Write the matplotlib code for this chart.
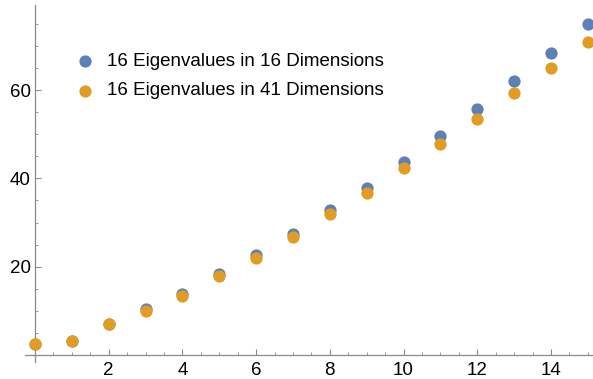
import matplotlib.pyplot as plt
from matplotlib.ticker import MultipleLocator, FixedLocator

plt.rcParams['font.family'] = ['Liberation Sans', 'DejaVu Sans']

# Datos
indices = list(range(16))
eig_16d = [2.4, 3.1, 7.0, 10.3, 13.7, 18.3, 22.6, 27.5, 32.8, 37.8,
           43.7, 49.6, 55.7, 62.1, 68.5, 75.1]
eig_41d = [2.4, 3.1, 7.0, 10.0, 13.4, 18.0, 21.9, 26.7, 31.9, 36.8,
           42.4, 47.8, 53.5, 59.3, 65.1, 71.0]
labels = ["16 Eigenvalues in 16 Dimensions", "16 Eigenvalues in 41 Dimensions"]
colores = ["#5E81B5", "#E19C24"]

fig = plt.figure(figsize=(5.93, 3.79), dpi=100)
ax = fig.add_axes([25 / 593, 17 / 379, 568 / 593, 357 / 379])

ax.scatter(indices, eig_16d, s=78, color=colores[0], label=labels[0], zorder=3, linewidths=0)
ax.scatter(indices, eig_41d, s=78, color=colores[1], label=labels[1], zorder=4, linewidths=0)

ax.set_xlim(-0.27, 15.14)
ax.set_ylim(-1.6, 79.3)

# Ejes estilo Mathematica
for lado in ['top', 'right']:
    ax.spines[lado].set_visible(False)
ax.spines['left'].set_position(('data', 0))
ax.spines['bottom'].set_position(('data', 0))
for lado in ['left', 'bottom']:
    ax.spines[lado].set_color('#8a8a8a')
    ax.spines[lado].set_linewidth(0.9)

ax.xaxis.set_major_locator(FixedLocator([2, 4, 6, 8, 10, 12, 14]))
ax.xaxis.set_minor_locator(MultipleLocator(0.5))
ax.yaxis.set_major_locator(FixedLocator([20, 40, 60]))
ax.yaxis.set_minor_locator(MultipleLocator(5))
ax.tick_params(which='both', direction='in', color='#8a8a8a', labelsize=13.5, labelcolor='black')
ax.tick_params(which='major', length=4, width=0.8)
ax.tick_params(which='minor', length=2.2, width=0.6)
ax.tick_params(axis='x', which='major', pad=5)
ax.tick_params(axis='y', which='major', pad=3)

leg = ax.legend(loc='upper left', bbox_to_anchor=(75.5 / 593, 1 - 53 / 379),
                bbox_transform=fig.transFigure, frameon=False, fontsize=13.5,
                handlelength=1.0, handletextpad=0.67, labelspacing=0.65,
                borderpad=0, borderaxespad=0)

fig.savefig('out.png', dpi=100)
